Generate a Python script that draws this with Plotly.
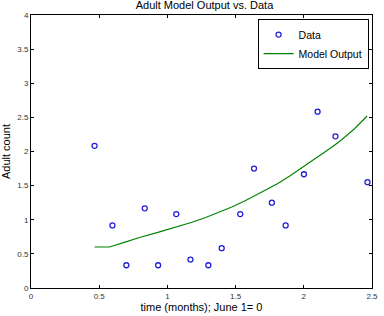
import plotly.graph_objects as go

data_x = [0.466, 0.597, 0.699, 0.834, 0.932, 1.065, 1.169, 1.300, 1.398,
          1.534, 1.635, 1.766, 1.867, 2.001, 2.101, 2.232, 2.467]
data_y = [2.083, 0.917, 0.333, 1.167, 0.333, 1.083, 0.417, 0.333, 0.583,
          1.083, 1.75, 1.25, 0.917, 1.667, 2.583, 2.222, 1.55]

model_x = [0.466, 0.575, 0.69, 0.79, 0.93, 1.077, 1.18, 1.281, 1.38, 1.472, 1.57,
           1.663, 1.74, 1.81, 1.9, 2.0, 2.08, 2.15, 2.21, 2.273, 2.37, 2.464]
model_y = [0.6, 0.6, 0.672, 0.737, 0.815, 0.897, 0.962, 1.033, 1.108, 1.188, 1.277,
           1.372, 1.452, 1.53, 1.645, 1.78, 1.885, 1.98, 2.07, 2.165, 2.33, 2.52]

x_ticks = [0, 0.5, 1, 1.5, 2, 2.5]
x_tick_labels = ["0", "0.5", "1", "1.5", "2", "2.5"]
y_ticks = [0, 0.5, 1, 1.5, 2, 2.5, 3, 3.5, 4]
y_tick_labels = ["0", "0.5", "1", "1.5", "2", "2.5", "3", "3.5", "4"]

font_family = "Liberation Sans, Arial, sans-serif"

fig = go.Figure()
fig.add_trace(go.Scatter(
    x=data_x, y=data_y, mode="markers", name="Data",
    marker=dict(symbol="circle-open", size=5, color="#1f1fd8", line=dict(width=1.3, color="#1f1fd8")),
))
fig.add_trace(go.Scatter(
    x=model_x, y=model_y, mode="lines", name="Model Output",
    line=dict(color="#008000", width=1.1),
))

axis_common = dict(
    showgrid=False, zeroline=False, showline=True, linecolor="black", linewidth=1,
    mirror="ticks", ticks="inside", ticklen=3, tickcolor="black", tickwidth=1,
    tickfont=dict(size=8, color="#333333", family=font_family),
)

fig.update_layout(
    width=384, height=316,
    margin=dict(l=30, r=6, t=15, b=26),
    paper_bgcolor="white", plot_bgcolor="white",
    font=dict(family=font_family, color="black"),
    title=dict(text="Adult Model Output vs. Data", x=0.5325, xanchor="center",
               y=0.995, yanchor="top", font=dict(size=11, color="black")),
    xaxis=dict(range=[0, 2.5], tickvals=x_ticks, ticktext=x_tick_labels,
               title=dict(text="time (months); June 1= 0", font=dict(size=11), standoff=2),
               **axis_common),
    yaxis=dict(range=[0, 4], tickvals=y_ticks, ticktext=y_tick_labels,
               title=dict(text="Adult count", font=dict(size=11), standoff=4),
               **axis_common),
    legend=dict(x=0.99, xanchor="right", y=0.985, yanchor="top",
                bordercolor="black", borderwidth=1, bgcolor="white",
                font=dict(size=10.5), tracegroupgap=0, itemwidth=30),
    showlegend=True,
)

fig.write_html("out.html")
